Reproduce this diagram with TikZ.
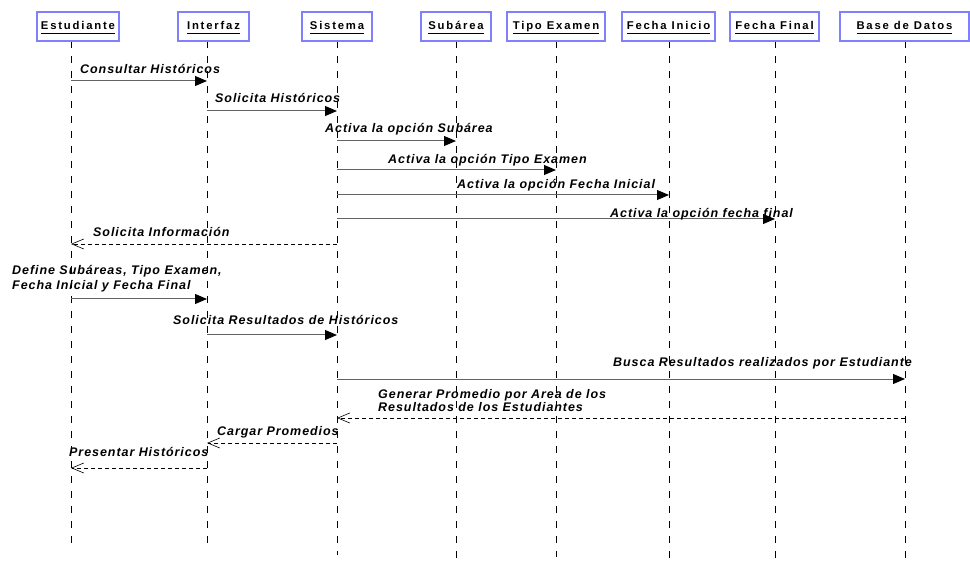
\documentclass[tikz,border=0pt]{standalone}
\usepackage{fontspec}
\setmainfont{Liberation Sans}
\newfontfamily\lblfont[LetterSpace=7.5]{Liberation Sans}
\newfontfamily\hdrfont[LetterSpace=16]{Liberation Sans}
\usetikzlibrary{arrows.meta}
\definecolor{boxblue}{RGB}{128,128,255}
\definecolor{msggray}{RGB}{100,100,100}
\tikzset{
  obj/.style={draw=boxblue, line width=2pt, fill=white, minimum height=29pt, inner sep=0pt,
    text height=9pt, text depth=3.5pt,
    font=\hdrfont\bfseries\fontsize{11.3}{13}\selectfont},
  life/.style={line width=0.8pt, dash pattern=on 7pt off 8pt, black},
  call/.style={line width=1pt, msggray, -{Triangle[length=12pt,width=10pt,black]}},
  ret/.style={line width=0.7pt, black, dash pattern=on 4pt off 3pt, -{Straight Barb[length=12pt,width=10pt,line width=0.6pt]}},
  lbl/.style={anchor=base west, inner sep=0pt, font=\lblfont\bfseries\itshape\fontsize{12.5}{14}\selectfont}
}
\newcommand{\hul}[1]{\underline{\vphantom{Ey}#1}}
\begin{document}
\begin{tikzpicture}[x=1pt,y=-1pt]
\useasboundingbox (0,0) rectangle (970,564);
% lifelines
\foreach \n/\x/\yb in {a/71/550,b/207/550,c/337/555,d/456/564,e/556/557,f/669/560,g/775/564,h/905/560}{
  \coordinate (\n top) at (\x,41);
  \coordinate (\n bot) at (\x,\yb);
  \draw[life] (\n top) -- (\n bot);
}
% objects
\node[obj, minimum width=82pt] (est) at (78,26.5) {\hul{Estudiante}};
\node[obj, minimum width=71pt] (int) at (213.5,26.5) {\hul{Interfaz}};
\node[obj, minimum width=70pt] (sis) at (337,26.5) {\hul{Sistema}};
\node[obj, minimum width=70pt] (sub) at (456,26.5) {\hul{Subárea}};
\node[obj, minimum width=98pt] (tip) at (556,26.5) {\hul{Tipo Examen}};
\node[obj, minimum width=93pt] (fin) at (668.5,26.5) {\hul{Fecha Inicio}};
\node[obj, minimum width=89pt] (ffi) at (774.5,26.5) {\hul{Fecha Final}};
\node[obj, minimum width=129pt] (bd) at (904.5,26.5) {\hul{Base de Datos}};
% message coordinates
\coordinate (m1s) at (71,81);   \coordinate (m1e) at (207,81);
\coordinate (m2s) at (207,111); \coordinate (m2e) at (337,111);
\coordinate (m3s) at (337,141); \coordinate (m3e) at (456,141);
\coordinate (m4s) at (337,170); \coordinate (m4e) at (556,170);
\coordinate (m5s) at (337,195); \coordinate (m5e) at (669,195);
\coordinate (m6s) at (337,219); \coordinate (m6e) at (775,219);
\coordinate (m7s) at (337,244); \coordinate (m7e) at (71,244);
\coordinate (m8s) at (71,299);  \coordinate (m8e) at (207,299);
\coordinate (m9s) at (207,335); \coordinate (m9e) at (337,335);
\coordinate (m10s) at (337,379); \coordinate (m10e) at (905,379);
\coordinate (m11s) at (905,418); \coordinate (m11e) at (337,418);
\coordinate (m12s) at (337,443); \coordinate (m12e) at (207,443);
\coordinate (m13s) at (207,468); \coordinate (m13e) at (71,468);
% messages
\draw[call] (m1s) -- (m1e);
\draw[call] (m2s) -- (m2e);
\draw[call] (m3s) -- (m3e);
\draw[call] (m4s) -- (m4e);
\draw[call] (m5s) -- (m5e);
\draw[call] (m6s) -- (m6e);
\draw[ret] (m7s) -- (m7e);
\draw[call] (m8s) -- (m8e);
\draw[call] (m9s) -- (m9e);
\draw[call] (m10s) -- (m10e);
\draw[ret] (m11s) -- (m11e);
\draw[ret] (m12s) -- (m12e);
\draw[ret] (m13s) -- (m13e);
% labels
\node[lbl] (l1) at (80,73.3) {Consultar Históricos};
\node[lbl] (l2) at (215,102.3) {Solicita Históricos};
\node[lbl] (l3) at (325,132.3) {Activa la opción Subárea};
\node[lbl] (l4) at (388,164) {Activa la opción Tipo Examen};
\node[lbl] (l5) at (457,188.7) {Activa la opción Fecha Inicial};
\node[lbl] (l6) at (610,217.3) {Activa la opción fecha final};
\node[lbl] (l7) at (93,236.7) {Solicita Información};
\node[lbl] (l8a) at (12,275) {Define Subáreas, Tipo Examen,};
\node[lbl] (l8b) at (12,289.3) {Fecha Inicial y Fecha Final};
\node[lbl] (l9) at (173,324) {Solicita Resultados de Históricos};
\node[lbl] (l10) at (613,366.7) {Busca Resultados realizados por Estudiante};
\node[lbl] (l11a) at (378,398.3) {Generar Promedio por Area de los};
\node[lbl] (l11b) at (378,411) {Resultados de los Estudiantes};
\node[lbl] (l12) at (217,435) {Cargar Promedios};
\node[lbl] (l13) at (69,456.7) {Presentar Históricos};
\end{tikzpicture}
\end{document}
